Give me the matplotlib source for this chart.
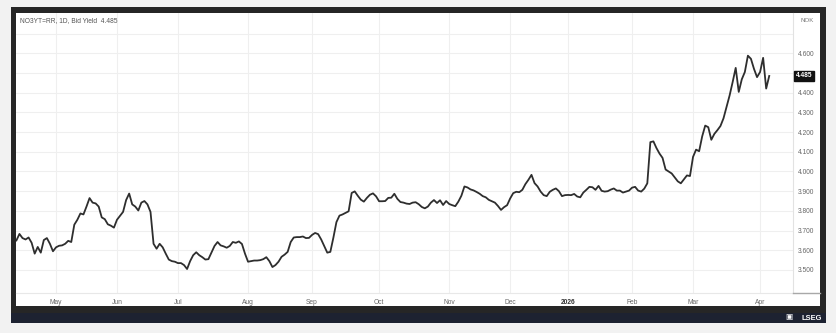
import numpy as np
import pandas as pd
import matplotlib
matplotlib.use("Agg")
import matplotlib.pyplot as plt
import matplotlib.transforms as mtransforms
from matplotlib.patches import Rectangle

plt.rcParams['font.family'] = ['Liberation Sans', 'DejaVu Sans']

# --- data, one value per Oslo trading day ---
ticker = "NO3YT=RR, 1D, Bid Yield"
currency = "NOK"
last_value = 4.485
start_date = "2025-04-09"
holidays = ["2025-04-17", "2025-04-18", "2025-04-21", "2025-05-01", "2025-05-29",
            "2025-06-09", "2025-12-24", "2025-12-25", "2025-12-26", "2025-12-31",
            "2026-01-01", "2026-04-02", "2026-04-03", "2026-04-06"]

yields = [
    3.650, 3.683, 3.662, 3.655, 3.665, 3.638, 3.583, 3.617, 3.588, 3.652,
    3.662, 3.633, 3.595, 3.615, 3.623, 3.625, 3.633, 3.648, 3.642, 3.730,
    3.755, 3.787, 3.782, 3.822, 3.865, 3.842, 3.838, 3.822, 3.767, 3.758,
    3.732, 3.725, 3.715, 3.755, 3.775, 3.795, 3.855, 3.888, 3.833, 3.822,
    3.802, 3.842, 3.850, 3.833, 3.795, 3.633, 3.608, 3.633, 3.615, 3.583,
    3.553, 3.545, 3.542, 3.535, 3.535, 3.525, 3.505, 3.545, 3.575, 3.590,
    3.575, 3.565, 3.553, 3.555, 3.588, 3.622, 3.642, 3.625, 3.620, 3.613,
    3.622, 3.642, 3.638, 3.645, 3.632, 3.583, 3.542, 3.545, 3.548, 3.548,
    3.550, 3.555, 3.565, 3.545, 3.515, 3.525, 3.542, 3.567, 3.578, 3.592,
    3.642, 3.665, 3.667, 3.667, 3.670, 3.662, 3.663, 3.678, 3.688, 3.682,
    3.655, 3.622, 3.588, 3.592, 3.664, 3.743, 3.776, 3.782, 3.790, 3.798,
    3.891, 3.899, 3.877, 3.857, 3.847, 3.866, 3.882, 3.889, 3.874, 3.849,
    3.849, 3.850, 3.866, 3.867, 3.887, 3.861, 3.845, 3.842, 3.837, 3.835,
    3.842, 3.844, 3.834, 3.820, 3.813, 3.822, 3.842, 3.855, 3.840, 3.854,
    3.830, 3.850, 3.835, 3.829, 3.824, 3.847, 3.877, 3.924, 3.919, 3.909,
    3.904, 3.896, 3.887, 3.875, 3.869, 3.856, 3.849, 3.842, 3.825, 3.805,
    3.819, 3.829, 3.863, 3.890, 3.897, 3.895, 3.907, 3.936, 3.958, 3.983,
    3.941, 3.924, 3.898, 3.880, 3.875, 3.897, 3.907, 3.914, 3.900, 3.875,
    3.880, 3.881, 3.880, 3.886, 3.873, 3.869, 3.893, 3.907, 3.922, 3.920,
    3.907, 3.927, 3.902, 3.898, 3.900, 3.908, 3.914, 3.903, 3.903, 3.893,
    3.898, 3.903, 3.918, 3.922, 3.903, 3.898, 3.913, 3.940, 4.149, 4.153,
    4.119, 4.091, 4.069, 4.010, 4.000, 3.990, 3.970, 3.950, 3.940, 3.960,
    3.980, 3.977, 4.074, 4.111, 4.103, 4.178, 4.233, 4.225, 4.161, 4.191,
    4.210, 4.231, 4.270, 4.329, 4.386, 4.454, 4.526, 4.404, 4.468, 4.505,
    4.588, 4.572, 4.521, 4.479, 4.505, 4.577, 4.421, 4.485,
]

y_ticks = [3.5, 3.6, 3.7, 3.8, 3.9, 4.0, 4.1, 4.2, 4.3, 4.4, 4.5, 4.6, 4.7]
hidden_labels = [4.5, 4.7]

dates = pd.bdate_range(start_date, periods=len(yields), freq="C", holidays=holidays)
x = np.arange(len(yields))

month_pos = []
month_lab = []
for i in range(1, len(dates)):
    if dates[i].month != dates[i - 1].month:
        month_pos.append(i)
        month_lab.append(str(dates[i].year) if dates[i].month == 1 else dates[i].strftime("%b"))

# --- figure ---
W, H = 836, 333
fig = plt.figure(figsize=(W / 100, H / 100), dpi=100, facecolor="#f2f2f2")


def px_rect(x0, y0, x1, y1, color, z=-3):
    r = Rectangle((x0 / W, 1 - y1 / H), (x1 - x0) / W, (y1 - y0) / H,
                  transform=fig.transFigure, color=color, zorder=z, lw=0)
    fig.patches.append(r)


px_rect(11, 7, 826, 313, "#262626")
px_rect(11, 313, 826, 323, "#1d2231")
px_rect(16, 13, 820, 306, "white", z=-2)

ax = fig.add_axes([16 / W, 1 - 293 / H, (793 - 16) / W, (293 - 13) / H])
ax.set_facecolor("white")
ax.plot(x, yields, color="#2e2e2e", lw=1.3, solid_joinstyle="round")

ax.set_xlim(-0.13, 254.8)
ax.set_ylim(3.3832, 4.8046)

ax.set_xticks(month_pos)
ax.set_xticklabels(month_lab)
for t, lab in zip(ax.get_xticklabels(), month_lab):
    t.set_color("#333333" if lab.isdigit() else "#666666")
    if lab.isdigit():
        t.set_fontweight("bold")

ax.yaxis.tick_right()
ax.set_yticks(y_ticks)
ax.set_yticklabels(["" if v in hidden_labels else f"{v:.3f}" for v in y_ticks])

ax.tick_params(axis="x", length=0, pad=4.2, labelsize=4.8)
ax.tick_params(axis="y", length=0, pad=3.6, labelsize=4.8, labelcolor="#666666")
ax.grid(True, color="#efefef", lw=0.8)
ax.set_axisbelow(True)

for s in ["top", "left"]:
    ax.spines[s].set_visible(False)
ax.spines["right"].set_color("#e2e2e2")
ax.spines["right"].set_linewidth(0.8)
ax.spines["bottom"].set_color("#e8e8e8")
ax.spines["bottom"].set_linewidth(0.8)

# price-axis bottom separator
fig.add_artist(plt.Line2D([793 / W, 820 / W], [1 - 293 / H] * 2,
                          transform=fig.transFigure, color="#a8a8a8", lw=1.0))

# texts
fig.text(20 / W, 1 - 21 / H, f"{ticker}  {last_value:.3f}", fontsize=4.8,
         color="#555555", va="center", ha="left")
fig.text(807 / W, 1 - 21 / H, currency, fontsize=4.4, color="#777777",
         va="center", ha="center")

trans = mtransforms.blended_transform_factory(ax.transAxes, ax.transData)
ax.text(1.004, last_value, f"{last_value:.3f}", transform=trans, fontsize=4.8,
        color="white", fontweight="bold", va="center", ha="left", clip_on=False,
        bbox=dict(boxstyle="square,pad=0.25", fc="#111111", ec="#111111"))

fig.text(822 / W, 1 - 318 / H, "LSEG", fontsize=5.4, color="white",
         fontweight="bold", va="center", ha="right")
fig.text(789 / W, 1 - 318 / H, "\u25a3", fontsize=5.5, color="white",
         va="center", ha="center")

fig.savefig("out.png", dpi=100, facecolor=fig.get_facecolor())
